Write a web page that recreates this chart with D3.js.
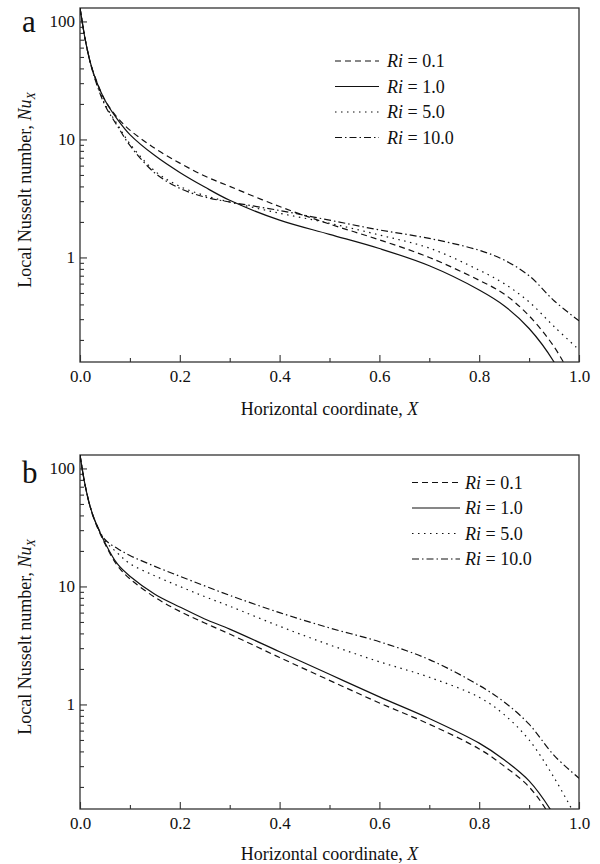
<!DOCTYPE html>
<html>
<head>
<meta charset="utf-8">
<script src="https://cdn.jsdelivr.net/npm/d3@7"></script>
<style>
  body { margin: 0; background: #fff; }
  svg text { font-family: "Liberation Serif", "Times New Roman", serif; fill: #111; }
</style>
</head>
<body>
<div id="chart"></div>
<script>
// x positions shared by every curve
const xs = [0, 0.005, 0.01, 0.02, 0.03, 0.05, 0.075, 0.1, 0.15, 0.2, 0.25, 0.3, 0.4, 0.5, 0.6, 0.7, 0.8, 0.85, 0.9, 0.95, 1.0];

// panel a
const a_ri01  = [130, 96, 72, 46, 34, 21.5, 15.3, 12.0, 8.4, 6.3, 4.9, 4.0, 2.7, 1.92, 1.41, 1.0, 0.64, 0.49, 0.32, 0.175, 0.075];
const a_ri1   = [130, 96, 72, 46, 33.5, 21.5, 14.8, 11, 7.3, 5.25, 3.95, 3.05, 2.07, 1.57, 1.19, 0.85, 0.53, 0.39, 0.25, 0.13, 0.05];
const a_ri5   = [130, 96, 72, 46, 33, 20, 13.4, 9.2, 5.4, 4.0, 3.35, 2.95, 2.37, 1.95, 1.55, 1.2, 0.78, 0.6, 0.42, 0.26, 0.165];
const a_ri10  = [130, 96, 72, 46, 32.5, 19.5, 13.0, 8.9, 5.2, 3.85, 3.25, 2.95, 2.5, 2.07, 1.71, 1.45, 1.15, 0.95, 0.7, 0.43, 0.29];

// panel b
const b_ri01  = [130, 96, 73, 48, 35.5, 23, 15, 11.6, 8.1, 6.15, 4.9, 3.95, 2.5, 1.6, 1.03, 0.68, 0.42, 0.30, 0.2, 0.1, 0.037];
const b_ri1   = [130, 96, 73, 48, 36, 23.5, 15.5, 12.2, 8.6, 6.7, 5.3, 4.35, 2.8, 1.8, 1.16, 0.76, 0.47, 0.34, 0.225, 0.115, 0.045];
const b_ri5   = [130, 96, 73, 48, 36, 24.5, 19.2, 15.6, 12.3, 10.0, 8.2, 6.8, 4.6, 3.2, 2.3, 1.7, 1.15, 0.82, 0.5, 0.24, 0.1];
const b_ri10  = [130, 96, 73, 48, 36, 25, 21, 18.3, 14.8, 12.2, 10.1, 8.4, 6.0, 4.45, 3.4, 2.4, 1.45, 1.05, 0.68, 0.37, 0.237];

const riLabels = ["0.1", "1.0", "5.0", "10.0"];
const dashes = ["6,4", null, "1.5,4.5", "7,3,1.5,3"];

const xMajor = [0, 0.2, 0.4, 0.6, 0.8, 1.0];
const xMinor = [0.1, 0.3, 0.5, 0.7, 0.9];
const yMajor = [1, 10, 100];
const yMinor = [0.2, 0.3, 0.4, 0.5, 0.6, 0.7, 0.8, 0.9, 2, 3, 4, 5, 6, 7, 8, 9, 20, 30, 40, 50, 60, 70, 80, 90];

const serif = "'Liberation Serif', 'Times New Roman', serif";
const width = 600, height = 864;
const svg = d3.select("#chart").append("svg")
    .attr("width", width)
    .attr("height", height)
    .attr("font-family", serif);

const panels = [
    { name: "a", top: 8, series: [a_ri01, a_ri1, a_ri5, a_ri10], legend: { x1: 335, x2: 379, tx: 387, y: 61 }, titleY: 415 },
    { name: "b", top: 455, series: [b_ri01, b_ri1, b_ri5, b_ri10], legend: { x1: 412, x2: 460, tx: 465, y: 482.5 }, titleY: 860 }
];

const left = 80, right = 579, plotH = 354;

const xScale = d3.scaleLinear().domain([0, 1]).range([left, right]);

panels.forEach(function(p, i) {
    const g = svg.append("g");
    const yScale = d3.scaleLog().domain([0.13, 130]).range([p.top + plotH, p.top]);

    // clip
    const clipId = "clip" + i;
    svg.append("clipPath").attr("id", clipId)
      .append("rect")
        .attr("x", left).attr("y", p.top)
        .attr("width", right - left).attr("height", plotH);

    //axes, ticks pointing inward
    g.append("g")
        .attr("transform", `translate(0,${p.top + plotH})`)
        .call(d3.axisBottom(xScale).tickValues(xMajor).tickSize(-7).tickPadding(8).tickFormat(d3.format(".1f")))
        .call(s => s.select(".domain").remove())
        .call(s => s.attr("font-family", serif).selectAll("text").style("font-size", "17px").attr("fill", "#111"));
    g.append("g")
        .attr("transform", `translate(0,${p.top + plotH})`)
        .call(d3.axisBottom(xScale).tickValues(xMinor).tickSize(-4).tickFormat(""))
        .call(s => s.select(".domain").remove());
    g.append("g")
        .attr("transform", `translate(${left},0)`)
        .call(d3.axisLeft(yScale).tickValues(yMajor).tickSize(-7).tickPadding(5).tickFormat(d3.format("d")))
        .call(s => s.select(".domain").remove())
        .call(s => s.attr("font-family", serif).selectAll("text").style("font-size", "17px").attr("fill", "#111"));
    g.append("g")
        .attr("transform", `translate(${left},0)`)
        .call(d3.axisLeft(yScale).tickValues(yMinor).tickSize(-4).tickFormat(""))
        .call(s => s.select(".domain").remove());
    g.selectAll(".tick line").attr("stroke", "#333").attr("stroke-width", 1.1);

    //frame
    g.append("rect")
        .attr("x", left).attr("y", p.top)
        .attr("width", right - left).attr("height", plotH)
        .attr("fill", "none")
        .attr("stroke", "#333")
        .attr("stroke-width", 1.3);

    //curves
    const line = d3.line()
        .x(d => xScale(d[0]))
        .y(d => yScale(d[1]))
        .curve(d3.curveCatmullRom.alpha(0.5));
    p.series.forEach(function(vals, k) {
        g.append("path")
            .datum(xs.map((x, j) => [x, vals[j]]))
            .attr("clip-path", `url(#${clipId})`)
            .attr("d", line)
            .attr("fill", "none")
            .attr("stroke", "#111")
            .attr("stroke-width", 1.2)
            .attr("stroke-dasharray", dashes[k]);
    });

    //legend
    riLabels.forEach(function(lab, k) {
        const ly = p.legend.y + k * 25.5;
        g.append("line")
            .attr("x1", p.legend.x1).attr("x2", p.legend.x2)
            .attr("y1", ly).attr("y2", ly)
            .attr("stroke", "#111")
            .attr("stroke-width", 1.2)
            .attr("stroke-dasharray", dashes[k]);
        const t = g.append("text")
            .attr("x", p.legend.tx).attr("y", ly + 6)
            .style("font-size", "18px");
        t.append("tspan").style("font-style", "italic").text("Ri");
        t.append("tspan").text(" = " + lab);
    });

    //axis titles
    const xt = g.append("text")
        .attr("x", (left + right) / 2)
        .attr("y", p.titleY)
        .attr("text-anchor", "middle")
        .style("font-size", "18px");
    xt.append("tspan").text("Horizontal coordinate, ");
    xt.append("tspan").style("font-style", "italic").text("X");

    const yt = g.append("text")
        .attr("transform", `translate(31,${p.top + plotH / 2 + 5}) rotate(-90)`)
        .attr("text-anchor", "middle")
        .style("font-size", "18px");
    yt.append("tspan").text("Local Nusselt number, ");
    yt.append("tspan").style("font-style", "italic").text("Nu");
    yt.append("tspan").style("font-style", "italic").style("font-size", "12px").attr("dy", 4).text("X");

    //panel letter
    g.append("text")
        .attr("x", 22)
        .attr("y", p.top + 24 + (i === 1 ? 4 : 0))
        .style("font-size", "31px")
        .text(p.name);
});
</script>
</body>
</html>
